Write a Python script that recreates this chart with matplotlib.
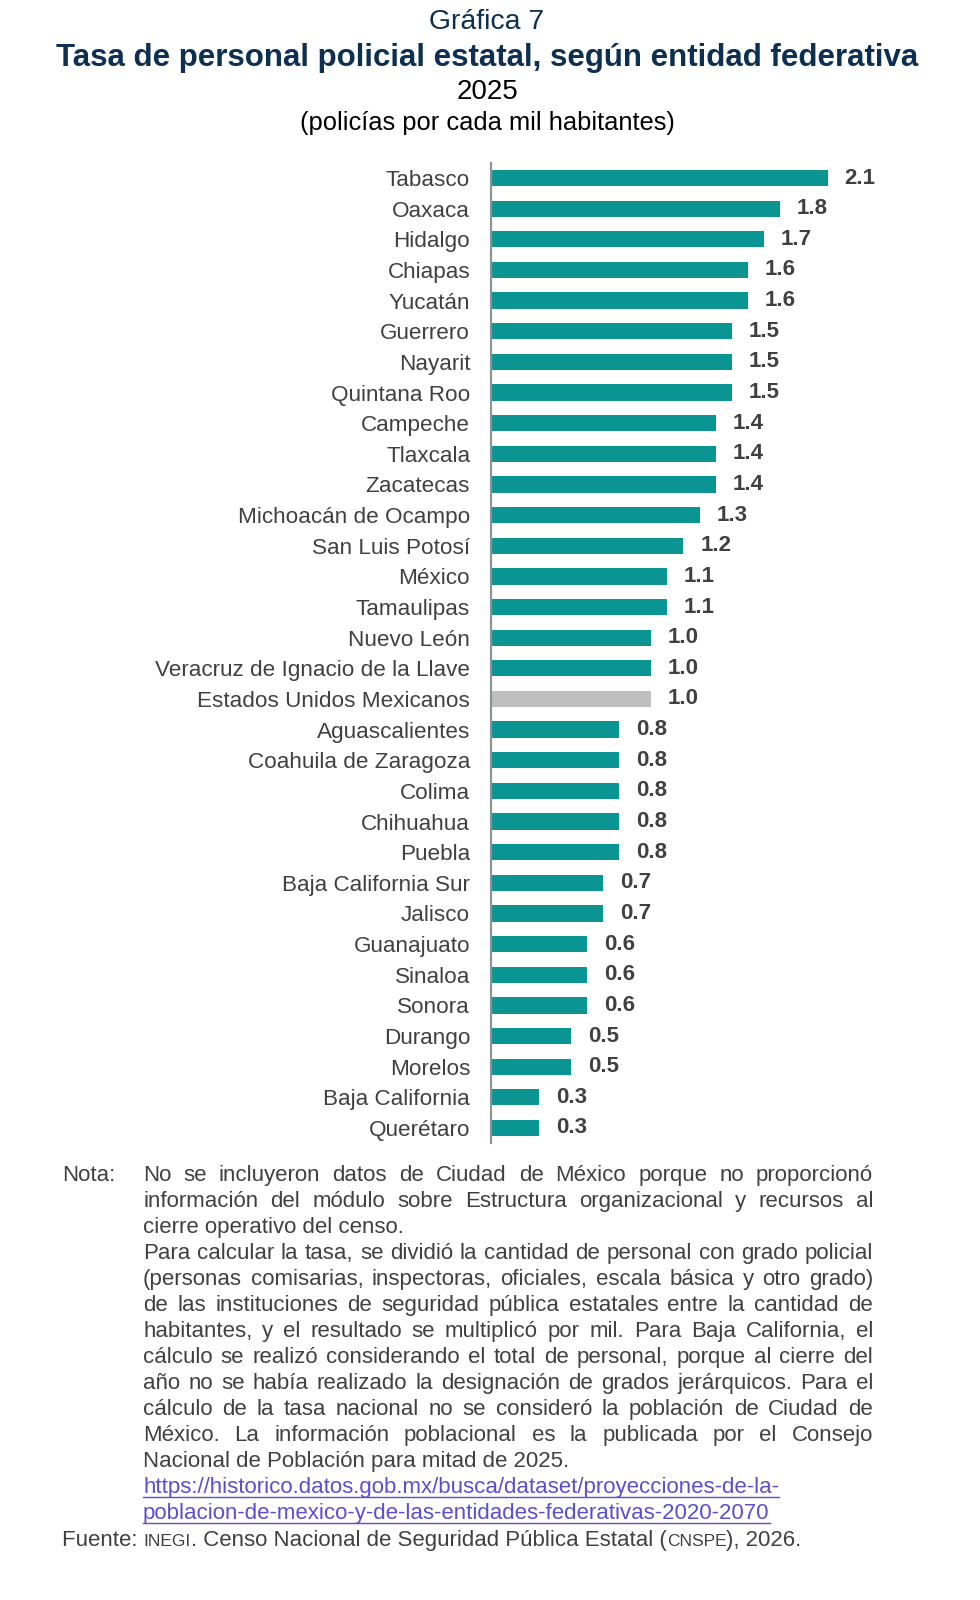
import matplotlib.pyplot as plt
from matplotlib.lines import Line2D

# datos de la grafica -------------------------------------------------------------------
entidades = ["Tabasco", "Oaxaca", "Hidalgo", "Chiapas", "Yucatán", "Guerrero", "Nayarit",
             "Quintana Roo", "Campeche", "Tlaxcala", "Zacatecas", "Michoacán de Ocampo",
             "San Luis Potosí", "México", "Tamaulipas", "Nuevo León",
             "Veracruz de Ignacio de la Llave", "Estados Unidos Mexicanos", "Aguascalientes",
             "Coahuila de Zaragoza", "Colima", "Chihuahua", "Puebla", "Baja California Sur",
             "Jalisco", "Guanajuato", "Sinaloa", "Sonora", "Durango", "Morelos",
             "Baja California", "Querétaro"]
tasas = [2.1, 1.8, 1.7, 1.6, 1.6, 1.5, 1.5, 1.5, 1.4, 1.4, 1.4, 1.3, 1.2, 1.1, 1.1, 1.0,
         1.0, 1.0, 0.8, 0.8, 0.8, 0.8, 0.8, 0.7, 0.7, 0.6, 0.6, 0.6, 0.5, 0.5, 0.3, 0.3]
nacional = "Estados Unidos Mexicanos"

# lineas de la nota (True = justificada)
nota_lineas = [
    ("No se incluyeron datos de Ciudad de México porque no proporcionó", True),
    ("información del módulo sobre Estructura organizacional y recursos al", True),
    ("cierre operativo del censo.", False),
    ("Para calcular la tasa, se dividió la cantidad de personal con grado policial", True),
    ("(personas comisarias, inspectoras, oficiales, escala básica y otro grado)", True),
    ("de las instituciones de seguridad pública estatales entre la cantidad de", True),
    ("habitantes, y el resultado se multiplicó por mil. Para Baja California, el", True),
    ("cálculo se realizó considerando el total de personal, porque al cierre del", True),
    ("año no se había realizado la designación de grados jerárquicos. Para el", True),
    ("cálculo de la tasa nacional no se consideró la población de Ciudad de", True),
    ("México. La información poblacional es la publicada por el Consejo", True),
    ("Nacional de Población para mitad de 2025.", False),
]
liga = ["https://historico.datos.gob.mx/busca/dataset/proyecciones-de-la-",
        "poblacion-de-mexico-y-de-las-entidades-federativas-2020-2070"]

TEAL = "#0A9592"
GRIS = "#BFBFBF"
TXT = "#404040"
AZUL = "#0C2F52"
W, H = 980, 1600

plt.rcParams['font.family'] = ['Liberation Sans', 'DejaVu Sans']
fig = plt.figure(figsize=(W / 100, H / 100), dpi=100)


def fx(x):
    return x / W


def fy(y):
    return 1 - y / H


# titulos
fig.text(0.497, fy(22), "Gráfica 7", ha='center', va='center', fontsize=20.4, color=AZUL)
fig.text(0.497, fy(58), "Tasa de personal policial estatal, según entidad federativa",
         ha='center', va='center', fontsize=22.5, color=AZUL, fontweight='bold')
fig.text(0.497, fy(92), "2025", ha='center', va='center', fontsize=20, color='black')
fig.text(0.497, fy(123), "(policías por cada mil habitantes)", ha='center', va='center',
         fontsize=18.4, color='black')

# barras
top, bot = 162.7, 1143.3
ax = fig.add_axes([fx(491), fy(bot), 417 / W, (bot - top) / H])
colores = [GRIS if e == nacional else TEAL for e in entidades]
ypos = list(range(len(entidades)))
ax.barh(ypos, tasas, height=0.53, color=colores)
ax.set_xlim(0, 2.6)
ax.set_ylim(len(entidades) - 0.5, -0.5)
ax.set_yticks(ypos)
ax.set_yticklabels(entidades, fontsize=16.2, color=TXT)
ax.tick_params(axis='y', length=0, pad=15)
ax.set_xticks([])
for s in ['top', 'right', 'bottom']:
    ax.spines[s].set_visible(False)
ax.spines['left'].set_color('#8A9497')
ax.spines['left'].set_linewidth(1.6)
for i, v in enumerate(tasas):
    ax.annotate(f"{v:.1f}", (v, i), xytext=(12, 0), textcoords='offset points',
                va='center', ha='left', fontsize=16, fontweight='bold', color=TXT)

# nota, texto justificado -------------------------------------------------------------
r = fig.canvas.get_renderer()
NS = 16
x0, x1 = 143, 873
BL = 6  # de centro de linea a linea base


def ancho(s, size=NS):
    t = fig.text(0, 0, s, fontsize=size)
    w = t.get_window_extent(renderer=r).width
    t.remove()
    return w


y = 1175
fig.text(fx(62), fy(y + BL), "Nota:", fontsize=NS, color=TXT, va='baseline')
for linea, justif in nota_lineas:
    pals = linea.split()
    if justif:
        ws = [ancho(p) for p in pals]
        gap = (x1 - x0 - sum(ws)) / (len(pals) - 1)
        xx = x0
        for p, w in zip(pals, ws):
            fig.text(fx(xx), fy(y + BL), p, fontsize=NS, color=TXT, va='baseline')
            xx += w + gap
    else:
        fig.text(fx(x0), fy(y + BL), linea, fontsize=NS, color=TXT, va='baseline')
    y += 26

LIGA = "#5A4FCF"
for l in liga:
    t = fig.text(fx(x0), fy(y + BL), l, fontsize=NS, color=LIGA, va='baseline')
    bb = t.get_window_extent(renderer=r)
    fig.add_artist(Line2D([fx(x0), bb.x1 / W], [fy(y + 10), fy(y + 10)],
                          transform=fig.transFigure, color=LIGA, linewidth=1))
    y += 26

# fuente con versalitas
yb = y + 7
partes = [("Fuente: ", NS), ("INEGI", NS * 0.78),
          (". Censo Nacional de Seguridad Pública Estatal (", NS),
          ("CNSPE", NS * 0.78), ("), 2026.", NS)]
xx = 62
for s, sz in partes:
    fig.text(fx(xx), fy(yb), s, fontsize=sz, color=TXT, va='baseline')
    xx += ancho(s.replace(" ", "\u00a0"), sz)
fig.savefig("out.png", dpi=100)
